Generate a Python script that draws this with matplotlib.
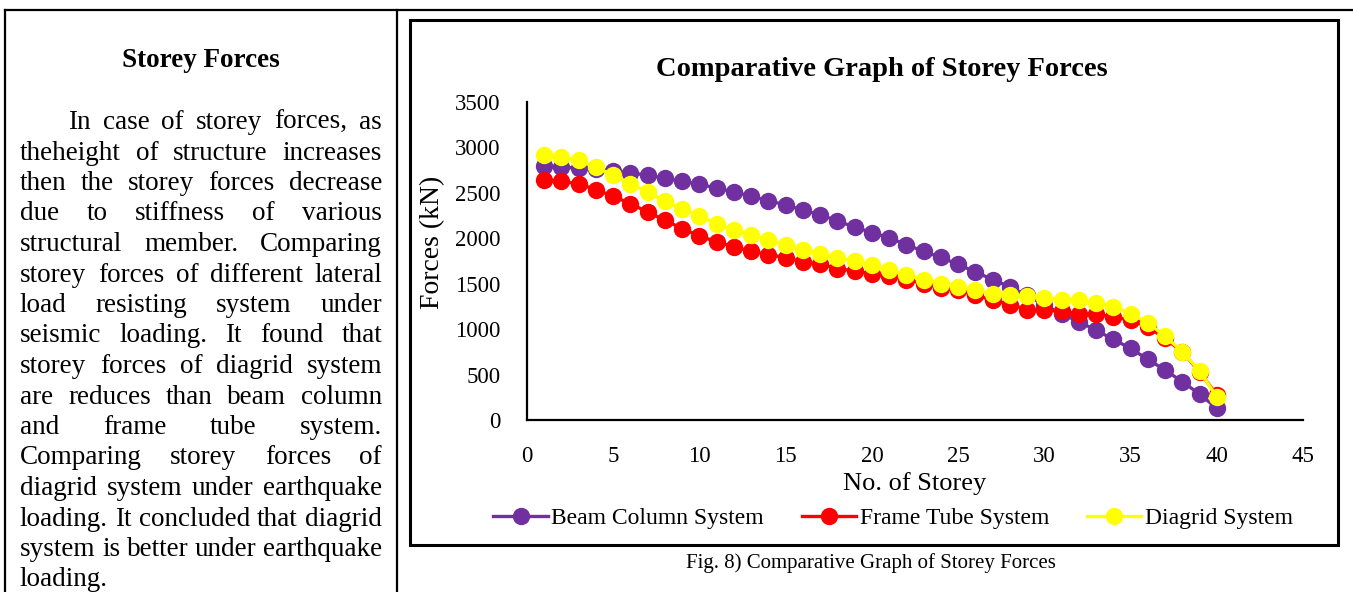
import numpy as np
import matplotlib.pyplot as plt
from matplotlib.lines import Line2D
from matplotlib.patches import Rectangle

plt.rcParams['font.family'] = ['Liberation Serif', 'DejaVu Serif']

W, H = 1353, 592

# data
storeys = list(range(1, 41))
beam_column = [2800, 2785, 2770, 2758, 2745, 2722, 2692, 2663, 2627, 2594,
               2553, 2509, 2465, 2410, 2370, 2308, 2260, 2190, 2124, 2063,
               2004, 1931, 1855, 1790, 1712, 1630, 1546, 1465, 1374, 1264,
               1172, 1080, 989, 887, 788, 667, 550, 421, 286, 129]
frame_tube = [2638, 2627, 2600, 2535, 2462, 2381, 2289, 2198, 2107, 2026,
              1960, 1905, 1857, 1820, 1788, 1740, 1714, 1667, 1641, 1605,
              1583, 1545, 1500, 1458, 1429, 1374, 1319, 1270, 1216, 1209,
              1198, 1172, 1165, 1135, 1099, 1025, 898, 751, 531, 275]
diagrid = [2912, 2894, 2857, 2784, 2692, 2601, 2509, 2407, 2327, 2245,
           2161, 2088, 2041, 1978, 1923, 1876, 1832, 1788, 1747, 1703,
           1650, 1600, 1546, 1502, 1465, 1429, 1392, 1374, 1363, 1345,
           1326, 1319, 1289, 1245, 1172, 1069, 923, 751, 542, 256]
series_names = ['Beam Column System', 'Frame Tube System', 'Diagrid System']
series_colors = ['#7030A0', '#FF0000', '#FFFF00']

body_lines = [
    "In case of storey forces, as",
    "theheight of structure increases",
    "then the storey forces decrease",
    "due to stiffness of various",
    "structural member. Comparing",
    "storey forces of different lateral",
    "load resisting system under",
    "seismic loading. It found that",
    "storey forces of diagrid system",
    "are reduces than beam column",
    "and frame tube system.",
    "Comparing storey forces of",
    "diagrid system under earthquake",
    "loading. It concluded that diagrid",
    "system is better under earthquake",
    "loading.",
]


def fx(px):
    return px / W


def fy(py):
    return 1 - py / H


fig = plt.figure(figsize=(W / 100, H / 100), dpi=100)

# page table lines
fig.add_artist(Line2D([fx(5), 1], [fy(10), fy(10)], color='k', lw=1.6))
fig.add_artist(Line2D([fx(5), fx(5)], [fy(10), 0], color='k', lw=1.6))
fig.add_artist(Line2D([fx(397), fx(397)], [fy(10), 0], color='k', lw=1.6))

# chart box
fig.add_artist(Rectangle((fx(410), fy(545)), fx(1338) - fx(410), fy(20) - fy(545),
                         fill=False, ec='k', lw=2.2))

# left column text
fig.text(fx(201), fy(67), 'Storey Forces', fontsize=19.5, fontweight='bold',
         ha='center', va='baseline')

renderer = fig.canvas.get_renderer()
left, right = 20, 382
body_size = 19.5
for i, line in enumerate(body_lines):
    yb = fy(129 + 30.5 * i)
    x0 = 68 if i == 0 else left
    words = line.split()
    if i == len(body_lines) - 1:
        fig.text(fx(x0), yb, line, fontsize=body_size, ha='left', va='baseline')
        continue
    texts = [fig.text(0, yb, w, fontsize=body_size, ha='left', va='baseline') for w in words]
    widths = [t.get_window_extent(renderer).width for t in texts]
    gap = (right - x0 - sum(widths)) / (len(words) - 1)
    x = x0
    for t, w in zip(texts, widths):
        t.set_x(fx(x))
        x += w + gap

# chart
ax = fig.add_axes([fx(527), fy(420), fx(1303) - fx(527), fy(102) - fy(420)])
for vals, name, col in zip([beam_column, frame_tube, diagrid], series_names, series_colors):
    ax.plot(storeys, vals, color=col, lw=2.4, marker='o', markersize=12.5,
            markeredgewidth=0, label=name)

ax.set_xlim(0, 45)
ax.set_ylim(0, 3500)
ax.set_xticks(np.arange(0, 46, 5))
ax.set_yticks(np.arange(0, 3501, 500))
ax.tick_params(length=0, labelsize=16.5)
ax.tick_params(axis='x', pad=19)
ax.tick_params(axis='y', pad=19)
for s in ['top', 'right']:
    ax.spines[s].set_visible(False)
for s in ['left', 'bottom']:
    ax.spines[s].set_linewidth(1.6)
ax.set_xlabel('No. of Storey', fontsize=19)
ax.xaxis.set_label_coords(0.5, -0.163)
ax.set_ylabel('Forces (kN)', fontsize=20)
ax.yaxis.set_label_coords(-0.106, 0.56)

fig.text(fx(882), fy(70), 'Comparative Graph of Storey Forces', fontsize=20.5,
         fontweight='bold', ha='center', va='center')

fig.legend(loc='center', bbox_to_anchor=(fx(893), fy(518)), ncol=3, frameon=False,
           fontsize=17, handlelength=2.3, handletextpad=0.15, columnspacing=1.6)

fig.text(fx(871), fy(563), 'Fig. 8) Comparative Graph of Storey Forces', fontsize=15,
         ha='center', va='center')

fig.savefig('out.png', dpi=100)
